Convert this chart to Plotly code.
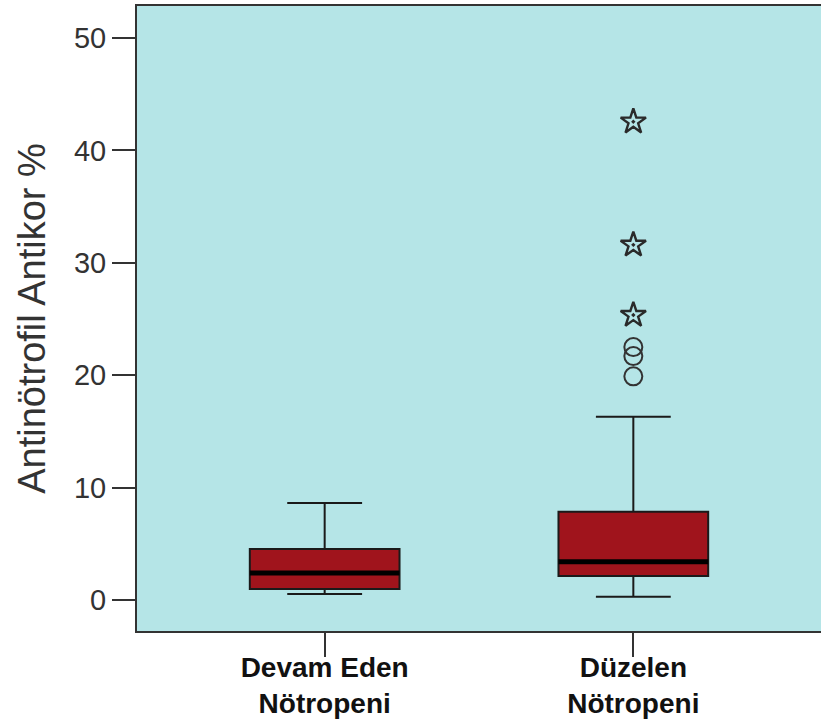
import plotly.graph_objects as go

# Summary statistics per group
groups = ["Devam Eden<br>Nötropeni", "Düzelen<br>Nötropeni"]
lower_whisker = [0.53, 0.29]
q1 = [0.98, 2.14]
median = [2.40, 3.41]
q3 = [4.54, 7.86]
upper_whisker = [8.63, 16.3]

# Outliers (group 2): mild ones as circles, extreme ones as stars
mild_outliers = [19.9, 21.7, 22.5]
extreme_outliers = [25.35, 31.6, 42.55]

box_width = 0.485
fill = "#A0141C"
bg = "#B5E5E7"
ink = "#1a1a1a"

fig = go.Figure()

for i, name in enumerate(groups):
    fig.add_trace(go.Box(
        x=[i], q1=[q1[i]], median=[median[i]], q3=[q3[i]],
        lowerfence=[lower_whisker[i]], upperfence=[upper_whisker[i]],
        width=box_width, whiskerwidth=0.5,
        fillcolor=fill, line=dict(color=ink, width=2),
        boxpoints=False, showlegend=False, hoverinfo="skip",
    ))
    # heavy median bar
    fig.add_trace(go.Scatter(
        x=[i - box_width / 2, i + box_width / 2], y=[median[i], median[i]],
        mode="lines", line=dict(color="#000000", width=5),
        showlegend=False, hoverinfo="skip",
    ))

fig.add_trace(go.Scatter(
    x=[1] * len(mild_outliers), y=mild_outliers, mode="markers",
    marker=dict(symbol="circle-open", size=18, color="#333333",
                line=dict(width=2, color="#333333")),
    showlegend=False, hoverinfo="skip",
))
fig.add_trace(go.Scatter(
    x=[1] * len(extreme_outliers), y=extreme_outliers, mode="markers",
    marker=dict(symbol="star-open-dot", size=19, color="#2a2a2a",
                line=dict(width=2.4, color="#2a2a2a")),
    showlegend=False, hoverinfo="skip",
))

fig.update_layout(
    width=821, height=724,
    margin=dict(l=137, r=0, t=6, b=93),
    paper_bgcolor="white", plot_bgcolor=bg,
    font=dict(family="Liberation Sans, Arial, sans-serif", color="#333333"),
    xaxis=dict(
        range=[-0.608, 1.608], tickmode="array", tickvals=[0, 1],
        ticktext=[f"<b>{g}</b>" for g in groups],
        tickfont=dict(size=28, color="#111111"),
        ticks="outside", ticklen=24, tickwidth=2, tickcolor="#333333",
        ticklabelstandoff=-14,
        showline=True, linecolor="#333333", linewidth=2, mirror=True,
        showgrid=False, zeroline=False, automargin=False,
    ),
    yaxis=dict(
        range=[-2.76, 52.85], tickvals=[0, 10, 20, 30, 40, 50],
        tickfont=dict(size=29, color="#333333"),
        ticks="outside", ticklen=23, tickwidth=2, tickcolor="#333333",
        showline=True, linecolor="#333333", linewidth=2,
        showgrid=False, zeroline=False, automargin=False,
        title=dict(text="Antinötrofil Antikor %", font=dict(size=38, color="#333333"),
                   standoff=17),
    ),
)

fig.write_html("out.html")
